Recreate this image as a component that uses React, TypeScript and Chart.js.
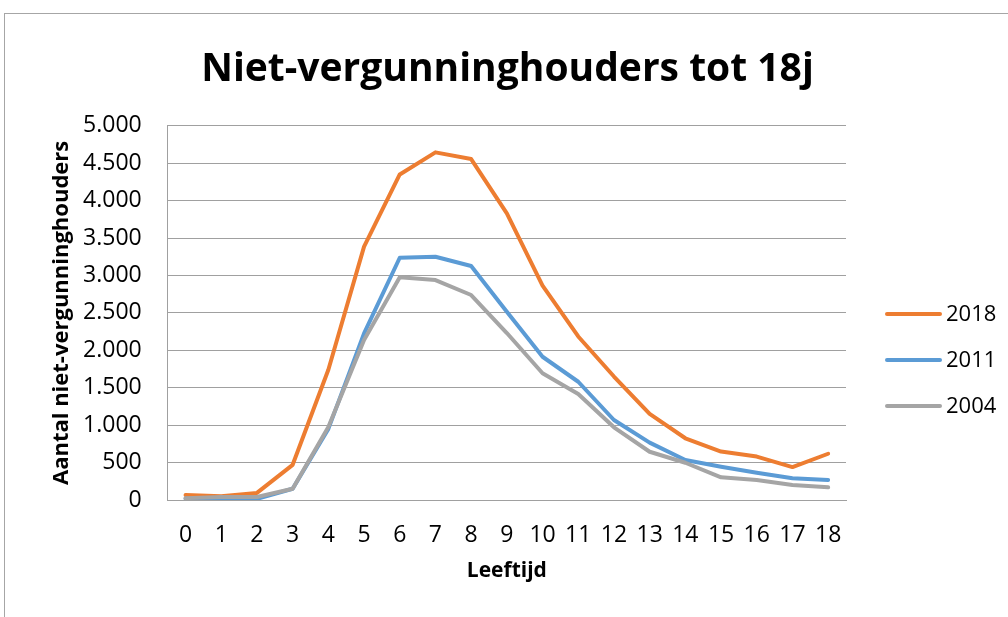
import React, { useEffect, useRef } from "react";
import { Chart, registerables } from "chart.js";

Chart.register(...registerables);

const categories = ["0", "1", "2", "3", "4", "5", "6", "7", "8", "9", "10", "11", "12", "13", "14", "15", "16", "17", "18"];
const series2018 = [67, 50, 95, 470, 1740, 3385, 4350, 4645, 4556, 3830, 2865, 2185, 1650, 1150, 825, 648, 580, 440, 618];
const series2011 = [20, 8, 15, 150, 950, 2227, 3237, 3250, 3126, 2516, 1914, 1580, 1069, 766, 534, 445, 365, 290, 267];
const series2004 = [25, 40, 40, 150, 975, 2138, 2975, 2939, 2739, 2231, 1693, 1416, 971, 645, 498, 303, 267, 200, 170];
const seriesLabels = ["2018", "2011", "2004"];
const seriesColors = ["#ED7D31", "#5B9BD5", "#A5A5A5"];
const yTickMax = 5000;
const yTickStep = 500;

const FONT = "'Open Sans', sans-serif";
const GRID = "#a0a0a0";

function formatThousands(v: number): string {
  return String(v).replace(/\B(?=(\d{3})+(?!\d))/g, ".");
}

const framePlugin = {
  id: "frameAndLegend",
  beforeDraw(chart: any) {
    const ctx = chart.ctx;
    ctx.save();
    ctx.fillStyle = "#ffffff";
    ctx.fillRect(0, 0, chart.width, chart.height);
    ctx.strokeStyle = "#a6a6a6";
    ctx.lineWidth = 1;
    ctx.strokeRect(4.5, 13.5, chart.width + 10, chart.height + 10);
    ctx.restore();
  },
  afterDraw(chart: any) {
    const ctx = chart.ctx;
    const area = chart.chartArea;
    ctx.save();
    const x0 = area.right + 41;
    const x1 = x0 + 53;
    const yStart = 314;
    const gap = 46;
    chart.data.datasets.forEach((ds: any, i: number) => {
      const y = yStart + i * gap;
      ctx.strokeStyle = ds.borderColor;
      ctx.lineWidth = 4;
      ctx.lineCap = "round";
      ctx.beginPath();
      ctx.moveTo(x0, y);
      ctx.lineTo(x1, y);
      ctx.stroke();
      ctx.fillStyle = "#000000";
      ctx.font = `22px ${FONT}`;
      ctx.textBaseline = "middle";
      ctx.textAlign = "left";
      ctx.fillText(ds.label, x1 + 6, y + 1);
    });
    ctx.restore();
  },
};

export default function App() {
  const canvasRef = useRef<HTMLCanvasElement | null>(null);

  useEffect(() => {
    if (!canvasRef.current) return;
    const data = [series2018, series2011, series2004];
    const chart = new Chart(canvasRef.current, {
      type: "line",
      data: {
        labels: categories,
        datasets: data.map((d, i) => ({
          label: seriesLabels[i],
          data: d,
          borderColor: seriesColors[i],
          backgroundColor: seriesColors[i],
          borderWidth: 4,
          pointRadius: 0,
          pointHoverRadius: 0,
          tension: 0,
          fill: false,
          borderJoinStyle: "round" as const,
          borderCapStyle: "round" as const,
          yAxisID: "y",
          order: 3 - i,
        })),
      },
      options: {
        animation: false,
        responsive: false,
        devicePixelRatio: 1,
        layout: { padding: { left: 7, right: 0, top: 0, bottom: 0 } },
        plugins: {
          legend: { display: false },
          tooltip: { enabled: false },
          title: {
            display: true,
            text: "Niet-vergunninghouders tot 18j",
            color: "#000000",
            font: { family: FONT, size: 39, weight: "bold", lineHeight: 1.2 },
            padding: { top: 46, bottom: 33 },
          },
        },
        scales: {
          x: {
            type: "category",
            offset: true,
            grid: { display: false, drawTicks: false },
            border: { display: true, color: GRID, width: 1 },
            ticks: {
              color: "#000000",
              font: { family: FONT, size: 23 },
              padding: 22,
              maxRotation: 0,
              autoSkip: false,
            },
            title: {
              display: true,
              text: "Leeftijd",
              color: "#000000",
              font: { family: FONT, size: 21, weight: "bold", lineHeight: 1.2 },
              padding: { top: 0, bottom: 33 },
            },
            afterFit: (s: any) => {
              s.height = 117;
            },
          },
          y: {
            type: "linear",
            position: "left",
            min: 0,
            max: yTickMax,
            grid: { color: GRID, lineWidth: 1, drawTicks: false },
            border: { display: true, color: GRID, width: 1 },
            ticks: {
              stepSize: yTickStep,
              color: "#000000",
              font: { family: FONT, size: 23 },
              padding: 26,
              callback: (v: any) => formatThousands(Number(v)),
            },
            title: {
              display: true,
              text: "Aantal niet-vergunninghouders",
              color: "#000000",
              font: { family: FONT, size: 22, weight: "bold", lineHeight: 1.2 },
              padding: { top: 41.8, bottom: 0 },
            },
            afterFit: (s: any) => {
              s.width = 160.7;
            },
          },
          y2: {
            type: "linear",
            position: "right",
            display: true,
            grid: { display: false, drawTicks: false },
            border: { display: false },
            ticks: { display: false },
            afterFit: (s: any) => {
              s.width = 162;
            },
          },
        },
      },
      plugins: [framePlugin],
    });
    return () => {
      chart.destroy();
    };
  }, []);

  return (
    <div style={{ position: "absolute", left: 0, top: 0, width: 1008, height: 617, overflow: "hidden" }}>
      <canvas ref={canvasRef} width={1008} height={617} style={{ display: "block", width: 1008, height: 617 }} />
    </div>
  );
}
